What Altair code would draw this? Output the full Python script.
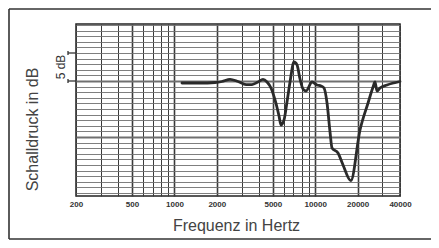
import altair as alt
import pandas as pd

# Frequency response (Hz, dB)
freq = [1132, 1519, 1942, 2178, 2482, 2829, 3225, 3557, 3923, 4257, 4546, 4853,
        5182, 5532, 5716, 6003, 6303, 6622, 7068, 7425, 7798, 8190, 8602, 9490,
        10294, 10995, 11549, 12130, 12737, 13159, 14516, 15756, 17900, 20800,
        23720, 25740, 26580, 27460, 28840, 32360, 40000]
db = [-0.36, -0.36, -0.27, -0.09, 0.30, -0.09, -0.63, -0.63, -0.18, 0.30, -0.18, -1.25,
      -3.39, -6.25, -7.86, -6.96, -3.75, -0.18, 3.39, 2.86, 0.36, -1.43, -1.79, -0.18,
      -0.71, -0.89, -1.25, -3.93, -9.11, -11.96, -12.86, -15.0, -17.8, -8.75,
      -3.93, -1.07, -0.18, -1.79, -1.25, -0.71, -0.09]

x_grid = [200, 300, 400, 500, 600, 700, 800, 900, 1000, 2000, 3000, 4000, 5000,
          6000, 7000, 8000, 9000, 10000, 20000, 30000, 40000]
x_labels = [200, 500, 1000, 2000, 5000, 10000, 20000, 40000]
x_major = [500, 1000, 2000, 5000, 10000, 20000]
y_grid = list(range(-20, 11))
y_major = [0, -10]
bracket_db = [0, 5]

FONT = "Liberation Sans"

df = pd.DataFrame({"freq": freq, "db": db})
deco = pd.DataFrame({"k": [0]})
br = pd.DataFrame({"v": bracket_db})

xscale = alt.Scale(type="log", domain=[200, 40000], nice=False)
yscale = alt.Scale(domain=[-20.54, 10.18], nice=False, zero=False)

lab_arr = "[" + ",".join(str(v) for v in x_labels) + "]"
xmaj_arr = "[" + ",".join(str(v) for v in x_major) + "]"
ymaj_arr = "[" + ",".join(str(v) for v in y_major) + "]"

xaxis = alt.Axis(
    values=x_grid, grid=True, gridColor="#3a3a3a",
    gridWidth={"condition": {"test": f"indexof({xmaj_arr}, datum.value) >= 0", "value": 1.6}, "value": 1},
    ticks=False, domain=False,
    labelExpr=f"indexof({lab_arr}, datum.value) >= 0 ? format(datum.value, 'd') : ''",
    labelFont=FONT, labelFontSize=8, labelFontWeight="bold", labelColor="#333",
    labelPadding=4, labelOverlap=False, labelFlush=False, labelBound=False,
    title="Frequenz in Hertz", titleFont=FONT, titleFontSize=16, titleFontWeight="normal",
    titleColor="#444", titleY=34, titleX=160, titleBaseline="alphabetic",
)
yaxis = alt.Axis(
    values=y_grid, grid=True, gridColor="#707070",
    gridWidth={"condition": {"test": f"indexof({ymaj_arr}, datum.value) >= 0", "value": 1.8}, "value": 0.9},
    ticks=False, labels=False, domain=False,
    title="Schalldruck in dB", titleFont=FONT, titleFontSize=16, titleFontWeight="normal",
    titleColor="#444", titleX=-39, titleY=105, titleAngle=270,
    titleBaseline="alphabetic", titleAlign="center",
)

line = alt.Chart(df).mark_line(
    color="#2a2a2a", strokeWidth=2.8, interpolate="monotone",
    strokeCap="round", strokeJoin="round"
).encode(
    x=alt.X("freq:Q", scale=xscale, axis=xaxis),
    y=alt.Y("db:Q", scale=yscale, axis=yaxis),
)

br_ticks = alt.Chart(br).mark_rule(color="#333", strokeWidth=1.3).encode(
    x=alt.value(-8), x2=alt.value(0), y=alt.Y("v:Q", scale=yscale, axis=yaxis)
)
br_serif = alt.Chart(br).mark_rule(color="#333", strokeWidth=1.3, yOffset=-2, y2Offset=2).encode(
    x=alt.value(-8), y=alt.Y("v:Q", scale=yscale, axis=yaxis), y2="v:Q"
)
db_text = alt.Chart(deco).mark_text(
    text="5 dB", angle=270, fontSize=12, font=FONT, color="#333",
    baseline="alphabetic", align="center"
).encode(x=alt.value(-11), y=alt.YDatum(2.5, scale=yscale, axis=yaxis))

frame_left = alt.Chart(deco).mark_rule(color="#333", strokeWidth=1.6).encode(
    x=alt.value(-67), y=alt.value(-15), y2=alt.value(215))
frame_top = alt.Chart(deco).mark_rule(color="#333", strokeWidth=1.6).encode(
    x=alt.value(-67), x2=alt.value(360), y=alt.value(-15))
frame_bottom = alt.Chart(deco).mark_rule(color="#333", strokeWidth=1.6).encode(
    x=alt.value(-67), x2=alt.value(360), y=alt.value(215))

chart = alt.layer(
    line, br_ticks, br_serif, db_text, frame_left, frame_top, frame_bottom
).properties(
    width=324, height=172,
    autosize=alt.AutoSizeParams(type="none"),
    padding={"left": 68, "top": 16, "right": 31, "bottom": 44},
).configure_view(stroke="#222", strokeWidth=1.5)

chart.save("out.html", embed_options={"renderer": "svg", "actions": False})
